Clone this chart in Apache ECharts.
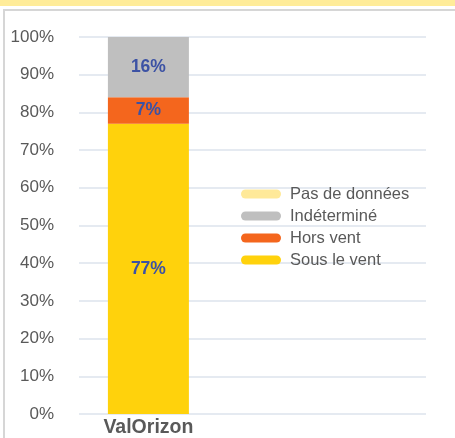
<!DOCTYPE html>
<html>
<head>
<meta charset="utf-8">
<script src="https://cdn.jsdelivr.net/npm/echarts@6/dist/echarts.min.js"></script>
<style>
  body{margin:0;background:#fff;}
  .strip{position:absolute;left:0;top:0;width:455px;height:6px;background:#ffec99;}
  .panel{position:absolute;left:3px;top:9px;width:460px;height:440px;border-top:2px solid #d6d6d6;border-left:2px solid #d6d6d6;}
  #Chart{position:absolute;left:0;top:0;width:455px;height:438px;}
</style>
</head>
<body>
<div class="strip"></div>
<div class="panel"></div>
<div id="Chart"></div>
<script>
// données
var categories = ['ValOrizon'];
var seriesNames = ['Sous le vent', 'Hors vent', 'Indéterminé', 'Pas de données'];
var seriesColors = ['#ffd20c', '#f4661d', '#bfbfbf', '#ffe999'];
var sousLeVent = [77];
var horsVent = [7];
var indetermine = [16];
var pasDeDonnees = [0];
var yTicks = [0, 10, 20, 30, 40, 50, 60, 70, 80, 90, 100];

var values = [sousLeVent, horsVent, indetermine, pasDeDonnees];
var font = 'Liberation Sans, Arial, sans-serif';

// axe catégorie : un emplacement vide avant, quatre après (placement de la barre)
var slots = [''].concat(categories, ['', '', '', '']);
function pad(arr) {
  return ['-'].concat(arr, ['-', '-', '-', '-']);
}

var chart = echarts.init(document.getElementById('Chart'));
var series = seriesNames.map(function (name, i) {
  return {
    name: name,
    type: 'bar',
    stack: 'total',
    barWidth: 81,
    color: seriesColors[i],
    data: pad(values[i]),
    label: {
      show: true,
      position: 'inside',
      color: '#3c52a4',
      fontWeight: 'bold',
      fontSize: 17.5,
      fontFamily: font,
      formatter: function (p) { return p.value > 0 ? p.value + '%' : ''; }
    }
  };
});

var option = {
  animation: false,
  backgroundColor: 'transparent',
  grid: { left: 79, right: 29, top: 37, bottom: 24 },
  legend: {
    data: seriesNames.slice().reverse(),
    orient: 'vertical',
    left: 236,
    top: 180.5,
    icon: 'path://M4.5,0 L35.5,0 A4.5,4.5 0 0 1 35.5,9 L4.5,9 A4.5,4.5 0 0 1 4.5,0 Z',
    itemWidth: 40,
    itemHeight: 9,
    itemGap: 5,
    textStyle: { color: '#595959', fontSize: 16.5, fontFamily: font, padding: [0, 0, 0, 4] }
  },
  xAxis: {
    type: 'category',
    data: slots,
    boundaryGap: false,
    splitLine: { show: false },
    axisLine: { show: false },
    axisTick: { show: false },
    axisLabel: {
      interval: 0,
      margin: 4,
      color: '#595959',
      fontWeight: 'bold',
      fontSize: 19.5,
      fontFamily: font
    }
  },
  yAxis: {
    type: 'value',
    min: yTicks[0],
    max: yTicks[yTicks.length - 1],
    interval: 10,
    axisLine: { show: false },
    axisTick: { show: false },
    splitLine: { lineStyle: { color: '#dde3ec', width: 1.5 } },
    axisLabel: {
      margin: 25,
      color: '#595959',
      fontSize: 17,
      fontFamily: font,
      formatter: '{value}%'
    }
  },
  series: series
};
chart.setOption(option);
</script>
</body>
</html>
